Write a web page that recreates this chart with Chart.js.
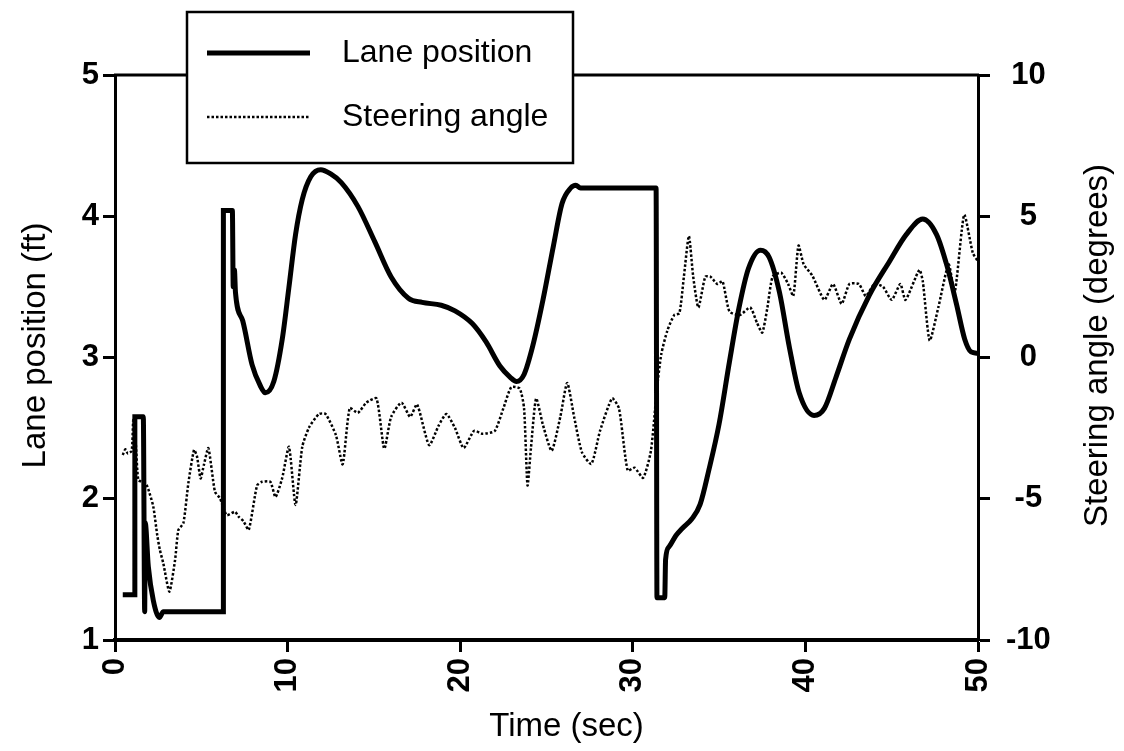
<!DOCTYPE html>
<html>
<head>
<meta charset="utf-8">
<script src="https://cdn.jsdelivr.net/npm/chart.js@4.4.1/dist/chart.umd.min.js"></script>
<style>
	body { margin: 0; background: #fff; }
	canvas { display: block; }
</style>
</head>
<body>
<canvas id="chart-lane" width="1124" height="751"></canvas>
<script>
// lane position (ft), left axis
const laneTime = [0.45, 1.15, 1.15, 1.64, 1.72, 1.75, 1.93, 2.22, 2.57, 2.8, 6.28, 6.28, 6.8, 6.85, 6.92, 6.98,
	7.4, 7.94, 8.42, 8.71, 9.2, 9.69, 10.07, 10.46, 10.85, 11.34, 11.92, 12.5, 13.1, 14.07, 15.05, 16.0,
	17.0, 17.8, 18.9, 19.7, 20.7, 21.5, 22.3, 22.9, 23.26, 23.7, 24.2, 24.8, 25.4, 25.9, 26.4, 26.7,
	26.97, 31.35, 31.4, 31.85, 31.9, 32.1, 32.5, 32.86, 33.44, 33.9, 34.4, 35.0, 35.6, 36.15, 36.7,
	37.4, 37.9, 38.5, 39.06, 39.64, 40.5, 41.1, 41.77, 42.55, 43.7, 44.87, 45.84, 46.8, 47.6, 48.2,
	48.75, 49.23, 49.6, 50];
const laneValue = [1.32, 1.32, 2.58, 2.58, 1.2, 1.83, 1.52, 1.28, 1.16, 1.2, 1.2, 4.04, 4.04, 3.5, 3.62, 3.46,
	3.26, 2.95, 2.8, 2.75, 2.83, 3.13, 3.49, 3.87, 4.12, 4.28, 4.33, 4.3, 4.24, 4.07, 3.82, 3.57,
	3.42, 3.39, 3.37, 3.33, 3.24, 3.11, 2.94, 2.86, 2.83, 2.88, 3.08, 3.41, 3.79, 4.09, 4.2, 4.22,
	4.2, 4.2, 1.3, 1.3, 1.57, 1.66, 1.74, 1.79, 1.86, 1.96, 2.2, 2.53, 2.97, 3.35, 3.63,
	3.76, 3.71, 3.46, 3.08, 2.75, 2.59, 2.64, 2.86, 3.13, 3.44, 3.68, 3.87, 3.98, 3.87, 3.65,
	3.38, 3.13, 3.04, 3.03];

// steering angle (degrees), right axis
const steerTime = [0.45, 0.6, 0.75, 0.97, 1.06, 1.2, 1.35, 1.6, 1.83, 2.0, 2.22, 2.45, 2.6, 2.8, 3.15, 3.48,
	3.67, 3.96, 4.25, 4.58, 4.75, 4.96, 5.15, 5.41, 5.79, 6.08, 6.47, 6.95, 7.16, 7.45, 7.75, 8.23,
	8.52, 9.0, 9.3, 9.69, 10.08, 10.46, 10.85, 11.24, 11.82, 12.2, 12.8, 13.19, 13.6, 14.07, 14.56,
	15.15, 15.6, 16.0, 16.6, 17.1, 17.5, 18.2, 18.76, 19.2, 19.7, 20.2, 20.8, 21.3, 22.0, 22.5,
	22.96, 23.45, 23.7, 23.9, 24.1, 24.4, 24.8, 25.3, 25.8, 26.2, 26.6, 27.05, 27.6, 28.1, 28.8,
	29.2, 29.7, 30.1, 30.6, 31.05, 31.4, 31.65, 32.0, 32.4, 32.7, 32.96, 33.25, 33.5, 33.8, 34.2,
	34.5, 34.9, 35.2, 35.6, 36.2, 36.8, 37.2, 37.5, 37.8, 38.1, 38.6, 39.0, 39.3, 39.6, 39.9,
	40.4, 41.1, 41.6, 42.1, 42.55, 43.1, 43.5, 44.0, 44.5, 45.0, 45.5, 45.8, 46.6, 46.8, 47.2,
	47.7, 48.3, 48.65, 49.2, 49.7, 50];
const steerValue = [-3.45, -3.25, -3.4, -3.3, -2.21, -3.0, -4.34, -4.4, -4.51, -4.8, -5.28, -6.3, -6.81, -7.29, -8.29, -7.17,
	-6.11, -5.87, -4.45, -3.27, -3.5, -4.28, -3.8, -3.21, -4.75, -4.98, -5.58, -5.46, -5.63, -5.8, -6.1, -4.53,
	-4.4, -4.4, -4.94, -4.26, -3.16, -5.22, -3.16, -2.48, -2.0, -2.0, -2.75, -3.78, -1.79, -1.96, -1.6,
	-1.45, -3.23, -2.1, -1.6, -2.1, -1.66, -3.1, -2.4, -2.0, -2.5, -3.2, -2.6, -2.7, -2.6, -1.8,
	-1.05, -1.1, -1.8, -4.53, -3.2, -1.45, -2.4, -3.3, -2.1, -0.9, -2.1, -3.35, -3.77, -2.6, -1.45,
	-1.8, -4.0, -3.9, -4.26, -3.3, -1.1, 0.12, 0.95, 1.5, 1.57, 2.86, 4.3, 2.86, 1.77, 2.86,
	2.86, 2.6, 2.7, 1.63, 1.5, 1.77, 1.22, 0.88, 1.77, 2.86, 3.0, 2.6, 2.18, 3.96, 3.3,
	2.9, 2.04, 2.6, 1.9, 2.6, 2.6, 2.18, 2.6, 2.5, 2.04, 2.6, 2.04, 3.1, 2.7, 0.6,
	1.77, 3.3, 2.3, 5.05, 3.7, 3.4];

const laneTicks = [1, 2, 3, 4, 5];
const steerTicks = [-10, -5, 0, 5, 10];
const timeTicks = [0, 10, 20, 30, 40, 50];

const xTitle = 'Time (sec)';
const yTitle = 'Lane position (ft)';
const y1Title = 'Steering angle (degrees)';

const FONT = "'Liberation Sans', Arial, Helvetica, sans-serif";

function toPoints(xs, ys) {
	return xs.map((x, i) => ({ x: x, y: ys[i] }));
}

function fixedTicks(list) {
	return function (scale) {
		scale.ticks = list.map(v => ({ value: v }));
	};
}

// top frame line, axis titles (both side titles read upwards) and the boxed legend
const frameLegend = {
	id: 'frameLegend',
	afterDraw(chart) {
		const ctx = chart.ctx;
		const area = chart.chartArea;
		ctx.save();
		ctx.strokeStyle = '#000';
		ctx.lineWidth = 3;
		ctx.beginPath();
		ctx.moveTo(area.left - 1, area.top);
		ctx.lineTo(area.right + 1, area.top);
		ctx.stroke();

		// axis titles
		const midY = (area.top + area.bottom) / 2 - 12;
		ctx.fillStyle = '#000';
		ctx.font = '33px ' + FONT;
		ctx.textAlign = 'center';
		ctx.textBaseline = 'middle';
		ctx.fillText(xTitle, (area.left + area.right) / 2 + 20, area.bottom + 87);
		[[area.left - 79, yTitle], [area.right + 120, y1Title]].forEach(([tx, text]) => {
			ctx.save();
			ctx.translate(tx, midY);
			ctx.rotate(-Math.PI / 2);
			ctx.fillText(text, 0, 0);
			ctx.restore();
		});

		// legend
		const bx = area.left + 72, by = area.top - 63, bw = 386, bh = 151;
		ctx.fillStyle = '#fff';
		ctx.fillRect(bx, by, bw, bh);
		ctx.lineWidth = 2.5;
		ctx.strokeRect(bx, by, bw, bh);

		chart.data.datasets.forEach((ds, i) => {
			const yy = by + 41 + i * 64;
			ctx.strokeStyle = '#000';
			ctx.lineWidth = ds.borderWidth;
			ctx.setLineDash(ds.borderDash || []);
			ctx.beginPath();
			ctx.moveTo(bx + 20, yy);
			ctx.lineTo(bx + 123, yy);
			ctx.stroke();
			ctx.setLineDash([]);
			ctx.fillStyle = '#000';
			ctx.font = '32px ' + FONT;
			ctx.textBaseline = 'middle';
			ctx.textAlign = 'left';
			ctx.fillText(ds.label, bx + 155, yy);
		});
		ctx.restore();
	}
};

function renderLaneChart() {
	const ctx = document.getElementById('chart-lane').getContext('2d');

	const axisGrid = {
		drawOnChartArea: false,
		drawTicks: true,
		tickLength: 12,
		tickWidth: 3,
		color: '#000',
	};
	const tickFont = { family: FONT, size: 31, weight: 'bold' };

	new Chart(ctx, {
		type: 'line',
		data: {
			datasets: [
				{
					label: 'Lane position',
					data: toPoints(laneTime, laneValue),
					yAxisID: 'y',
					borderColor: '#000',
					borderWidth: 5,
					cubicInterpolationMode: 'monotone',
					pointRadius: 0,
					fill: false,
				},
				{
					label: 'Steering angle',
					data: toPoints(steerTime, steerValue),
					yAxisID: 'y1',
					borderColor: '#000',
					borderWidth: 2.5,
					borderDash: [2.5, 2],
					tension: 0.2,
					pointRadius: 0,
					fill: false,
				},
			],
		},
		options: {
			responsive: false,
			animation: false,
			layout: { padding: { top: 75, left: 0, right: 0, bottom: 0 } },
			plugins: {
				legend: { display: false },
				tooltip: { enabled: false },
			},
			scales: {
				x: {
					type: 'linear',
					position: 'bottom',
					min: 0,
					max: 50,
					afterBuildTicks: fixedTicks(timeTicks),
					afterFit: (s) => { s.height = 111; },
					ticks: {
						autoSkip: false,
						minRotation: 90,
						maxRotation: 90,
						padding: 6,
						color: '#000',
						font: tickFont,
					},
					grid: axisGrid,
					border: { display: true, color: '#000', width: 4 },
				},
				y: {
					position: 'left',
					min: 1,
					max: 5,
					afterBuildTicks: fixedTicks(laneTicks),
					afterFit: (s) => { s.width = 115; },
					ticks: {
						padding: 4,
						color: '#000',
						font: tickFont,
					},
					grid: axisGrid,
					border: { display: true, color: '#000', width: 3 },
				},
				y1: {
					position: 'right',
					min: -10,
					max: 10,
					afterBuildTicks: fixedTicks(steerTicks),
					afterFit: (s) => { s.width = 146; },
					ticks: {
						padding: 16,
						crossAlign: 'center',
						color: '#000',
						font: tickFont,
					},
					grid: axisGrid,
					border: { display: true, color: '#000', width: 3 },
				},
			},
		},
		plugins: [frameLegend],
	});
}

renderLaneChart();
</script>
</body>
</html>
